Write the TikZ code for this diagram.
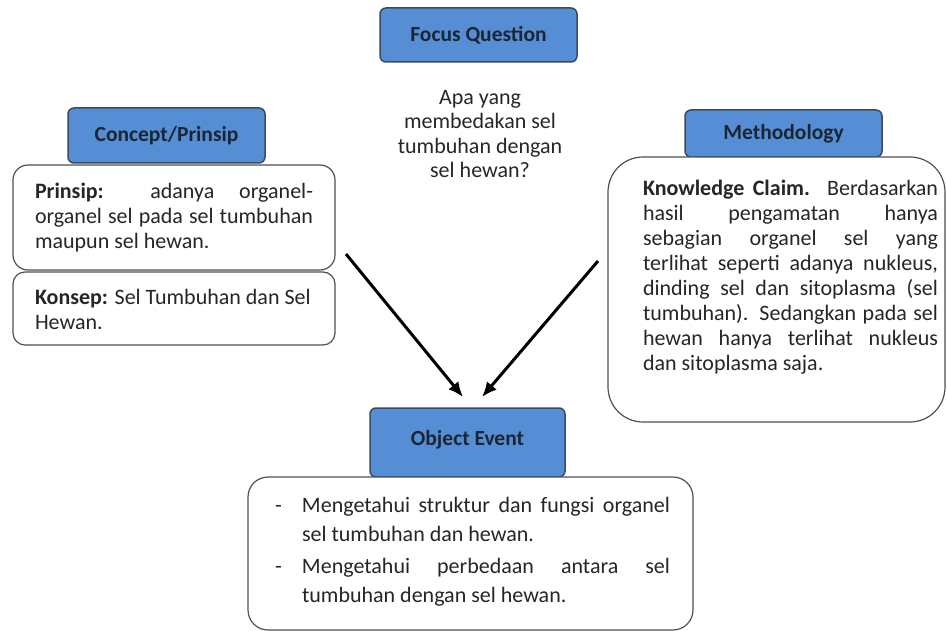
\documentclass[tikz,border=0pt]{standalone}
\usepackage{fontspec}
\setmainfont{Carlito}
\usetikzlibrary{arrows.meta}
\definecolor{headblue}{HTML}{558ED5}
\definecolor{headline}{HTML}{3B4A5E}
\definecolor{headtext}{HTML}{1C2633}
\definecolor{boxline}{HTML}{505050}
\definecolor{bodytext}{HTML}{262626}
%a justified line of fixed width (normal spaces, stretched to the width)
\newcommand{\fullline}[2][\hsize]{{\spaceskip=0pt\xspaceskip=0pt\makebox[#1][s]{#2}}}
\newcommand{\dashitem}{\makebox[27pt][l]{-}}
\begin{document}
\begin{tikzpicture}[x=1pt,y=-1pt,
header/.style={draw=headline,line width=1.5pt,fill=headblue,rounded corners=6pt,
	text=headtext,font=\fontsize{21.5}{24}\selectfont\bfseries,inner sep=0pt},
claim/.style={draw=boxline,line width=1.2pt,fill=white,inner sep=0pt},
words/.style={text=bodytext,font=\fontsize{22}{25}\selectfont,inner sep=0pt,
	execute at begin node={\spaceskip=0pt\xspaceskip=0pt}},
flow/.style={-{Latex[length=15pt,width=13pt]},line width=3pt,black}]
\useasboundingbox (0,0) rectangle (947,631);

%focus question on top
\node[header,minimum width=197pt,minimum height=54pt](focus) at (478.5,35) {\raisebox{2pt}{Focus Question}};
\node[words,align=center,font=\fontsize{22}{24.5}\selectfont](question) at (480,134) {Apa yang\\membedakan sel\\tumbuhan dengan\\sel hewan?};

%left side: concept and principle
\node[header,minimum width=197pt,minimum height=55pt](concept) at (166.5,135.5) {\raisebox{2.5pt}{Concept/Prinsip}};
\node[claim,rounded corners=15pt,minimum width=322pt,minimum height=105pt](prinsip) at (174,217.5) {};
\node[words,text width=278pt,align=left](prinsiptext) at (174,217.5) {%
	\fullline{\textbf{Prinsip:} adanya organel-}\\
	\fullline{organel sel pada sel tumbuhan}\\
	maupun sel hewan.};
\node[claim,rounded corners=12pt,minimum width=322pt,minimum height=73pt](konsep) at (174,308.5) {};
\node[words,text width=278pt,align=left](konseptext) at (174,309.5) {%
	\textbf{Konsep:} Sel Tumbuhan dan Sel\\
	Hewan.};

%right side: methodology
\node[header,minimum width=197pt,minimum height=47pt](method) at (783.5,133.5) {Methodology};
\node[claim,rounded corners=35pt,minimum width=337pt,minimum height=265pt](knowledge) at (776.5,289.5) {};
\node[words,text width=295pt,align=left](knowledgetext) at (790.5,277.5) {%
	\fullline{\textbf{Knowledge Claim.} Berdasarkan}\\
	\fullline{hasil pengamatan hanya}\\
	\fullline{sebagian organel sel yang}\\
	\fullline{terlihat seperti adanya nukleus,}\\
	\fullline{dinding sel dan sitoplasma (sel}\\
	\fullline{tumbuhan). Sedangkan pada sel}\\
	\fullline{hewan hanya terlihat nukleus}\\
	dan sitoplasma saja.};

%bottom: object event
\node[header,minimum width=195pt,minimum height=69pt](object) at (467.5,442.5) {\raisebox{9pt}{Object Event}};
\node[claim,rounded corners=20pt,minimum width=445pt,minimum height=153pt](event) at (470.5,553.5) {};
\node[words,text width=395pt,align=left,font=\fontsize{22}{29}\selectfont](eventtext) at (472.5,552) {%
	\dashitem\fullline[368pt]{Mengetahui struktur dan fungsi organel}\\
	\hspace*{27pt}sel tumbuhan dan hewan.\\[3pt]
	\dashitem\fullline[368pt]{Mengetahui perbedaan antara sel}\\
	\hspace*{27pt}tumbuhan dengan sel hewan.};

%arrows into the object event
\coordinate(leftfrom) at (346,254);
\coordinate(leftto) at (463,397);
\coordinate(rightfrom) at (598,261);
\coordinate(rightto) at (482,397);
\draw[flow] (leftfrom) -- (leftto);
\draw[flow] (rightfrom) -- (rightto);
\end{tikzpicture}
\end{document}
